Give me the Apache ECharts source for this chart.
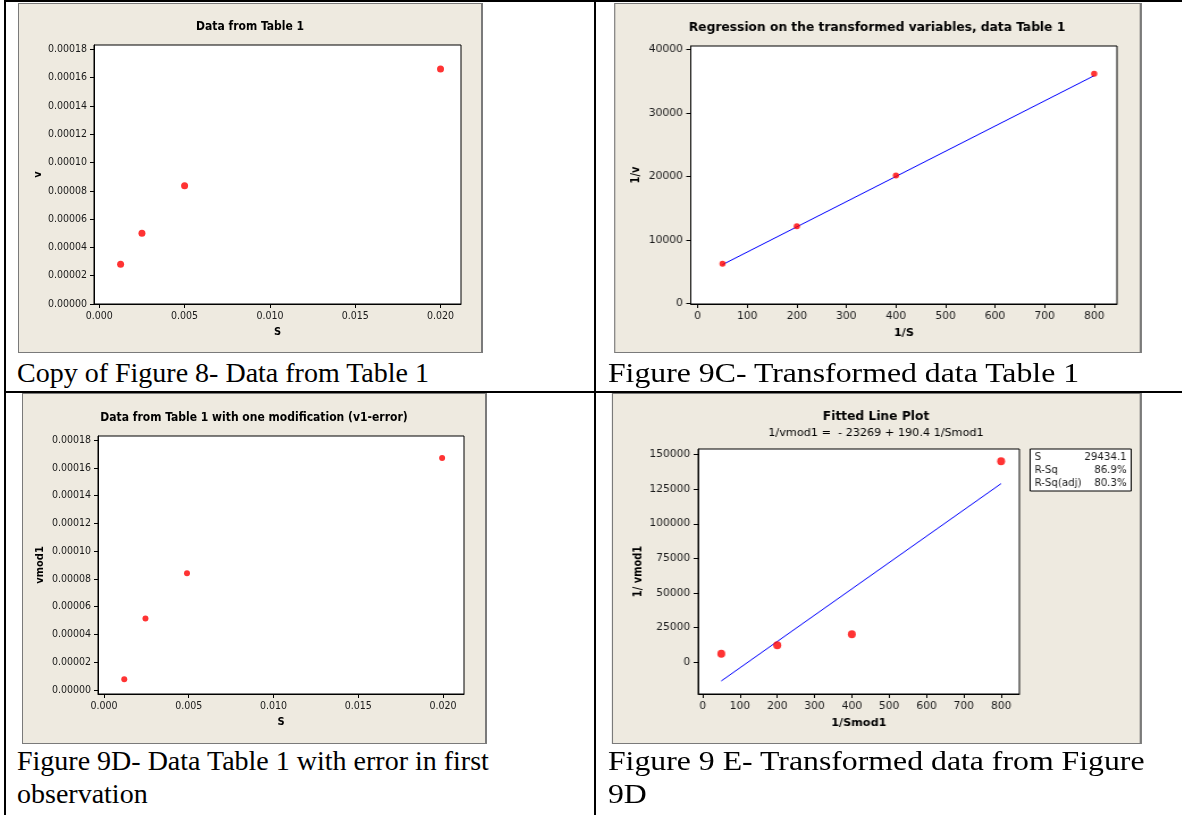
<!DOCTYPE html>
<html>
<head>
<meta charset="utf-8">
<script src="https://cdn.jsdelivr.net/npm/echarts@6/dist/echarts.min.js"></script>
<style>
  html, body { margin: 0; padding: 0; background: #fff; }
  #page { position: relative; width: 1182px; height: 815px; overflow: hidden; }
  .rule { position: absolute; background: #000; z-index: 3; }
  .col { position: absolute; top: 0; height: 815px; }
  #colLeft { left: 0; width: 594px; }
  /* the right-hand column is laid out at the same size as the left one and widened */
  #colRight { left: 596px; width: 517px; transform: scaleX(1.135); transform-origin: 0 0; }
  .panel { position: absolute; background: #EEEAE0; border: 1px solid #7a7a7a; border-right-width: 2px; box-sizing: border-box; }
  .cap { position: absolute; font-family: "Liberation Serif", "Times New Roman", serif; font-size: 28px; line-height: 33px; color: #000; white-space: nowrap; }
  .chart { position: absolute; left: 0; top: 0; height: 815px; z-index: 2; }
</style>
</head>
<body>
<div id="page">
  <div class="rule" style="left:4px;top:0;width:1178px;height:2px"></div>
  <div class="rule" style="left:4px;top:0;width:2px;height:815px"></div>
  <div class="rule" style="left:594px;top:0;width:2px;height:815px"></div>
  <div class="rule" style="left:4px;top:391px;width:1178px;height:2px"></div>

  <div class="col" id="colLeft">
    <div class="panel" style="left:18px;top:3px;width:465px;height:350px"></div>
    <div class="panel" style="left:22px;top:393px;width:465px;height:351px"></div>
    <div class="cap" style="left:17px;top:356px">Copy of Figure 8- Data from Table 1</div>
    <div class="cap" style="left:17px;top:744px">Figure 9D- Data Table 1 with error in first<br>observation</div>
    <div class="chart" id="chartLeft" style="width:594px"></div>
  </div>

  <div class="col" id="colRight">
    <div class="panel" style="left:16px;top:3px;width:465px;height:350px"></div>
    <div class="panel" style="left:14px;top:393px;width:467px;height:351px"></div>
    <div class="cap" style="left:10.5px;top:356px">Figure 9C- Transformed data Table 1</div>
    <div class="cap" style="left:10.5px;top:744px">Figure 9 E- Transformed data from Figure<br>9D</div>
    <div class="chart" id="chartRight" style="width:517px"></div>
  </div>
</div>
<script>
// Table 1: substrate concentration S and rate v
const sValues = [0.00125, 0.0025, 0.005, 0.02];
const vValues = [0.000028, 0.00005, 0.0000835, 0.000166];

// Transformed variables 1/S and 1/v
const invS = [50, 200, 400, 800];
const invV = [6230, 12150, 20150, 36150];
// Ends of the regression line on 1/S
const fitLineX = [50, 800];
const fitLineY = [6100, 35850];

// Table 1 with the first observation in error
const sMod = [0.0012, 0.00245, 0.0049, 0.01995];
const vMod = [0.0000077, 0.0000514, 0.000084, 0.000167];

// Transformed modified data
const invSMod = [50, 200, 400, 800];
const invVMod = [6000, 12000, 20000, 145300];
// Fitted line 1/vmod1 = b0 + b1 * 1/Smod1
const fitIntercept = -23269;
const fitSlope = 190.4;
const fitRangeX = [50, 800];
const fitStats = [['S', '29434.1'], ['R-Sq', '86.9%'], ['R-Sq(adj)', '80.3%']];

// Tick positions
const sTicks = [0, 0.005, 0.01, 0.015, 0.02];
const vTicks = [0, 0.00002, 0.00004, 0.00006, 0.00008, 0.0001, 0.00012, 0.00014, 0.00016, 0.00018];
const invSTicks = [0, 100, 200, 300, 400, 500, 600, 700, 800];
const invVTicks = [0, 10000, 20000, 30000, 40000];
const invVModTicks = [0, 25000, 50000, 75000, 100000, 125000, 150000];

const FONT = '"DejaVu Sans Condensed", "Liberation Sans", sans-serif';
const LABEL = { fontFamily: FONT, fontSize: 10.5, color: '#1a1a1a' };
const titleFont = 'bold 12px ' + FONT;

function zip(xs, ys) { return xs.map((x, i) => [x, ys[i]]); }
const fixed = (d) => (v) => v.toFixed(d);
const plain = (v) => String(Math.round(v));

function valueAxis(gridIndex, opts) {
  return {
    type: 'value',
    gridIndex: gridIndex,
    min: opts.min,
    max: opts.max,
    name: opts.name,
    nameLocation: 'middle',
    nameGap: opts.nameGap,
    nameMoveOverlap: opts.moveName !== false,
    nameTextStyle: { fontFamily: FONT, fontSize: 11, fontWeight: 'bold', color: '#000' },
    axisLine: { show: true, onZero: false, lineStyle: { color: '#000', width: 1 } },
    axisTick: { show: true, customValues: opts.ticks, length: 4, lineStyle: { color: '#000', width: 1 } },
    axisLabel: Object.assign({ customValues: opts.ticks, formatter: opts.fmt, margin: 7 }, LABEL),
    splitLine: { show: false }
  };
}

function plotGrid(left, top, width, height) {
  return { left: left, top: top, width: width, height: height, show: true, backgroundColor: '#fff', borderColor: '#000', borderWidth: 1 };
}

function titleText(x, y, text, font) {
  return { type: 'text', x: x, y: y, style: { text: text, font: font || titleFont, fill: '#000', textAlign: 'center', textVerticalAlign: 'middle' } };
}

const dot = (size) => ({ type: 'scatter', symbolSize: size, itemStyle: { color: '#ff0000' }, z: 3 });
const fitLine = { type: 'line', symbol: 'none', lineStyle: { color: '#0000ff', width: 1 }, z: 2 };

// Left column: raw data and data with the erroneous first observation
const chartLeft = echarts.init(document.getElementById('chartLeft'));
chartLeft.setOption({
  animation: false,
  grid: [plotGrid(94, 45, 367, 259), plotGrid(98, 436, 366, 258)],
  xAxis: [
    valueAxis(0, { min: -0.00031, max: 0.0212, ticks: sTicks, fmt: fixed(3), name: 'S', nameGap: 23 }),
    valueAxis(1, { min: -0.00035, max: 0.02124, ticks: sTicks, fmt: fixed(3), name: 'S', nameGap: 23 })
  ],
  yAxis: [
    valueAxis(0, { min: 0, max: 0.000183, ticks: vTicks, fmt: fixed(5), name: 'v', nameGap: 50, moveName: false }),
    valueAxis(1, { min: -0.0000029, max: 0.0001829, ticks: vTicks, fmt: fixed(5), name: 'vmod1', nameGap: 52, moveName: false })
  ],
  series: [
    Object.assign(dot(7), { xAxisIndex: 0, yAxisIndex: 0, data: zip(sValues, vValues) }),
    Object.assign(dot(6), { xAxisIndex: 1, yAxisIndex: 1, data: zip(sMod, vMod) })
  ],
  graphic: [
    titleText(250, 27, 'Data from Table 1'),
    titleText(254, 418, 'Data from Table 1 with one modification (v1-error)')
  ]
});

// Right column: regressions on the transformed variables (column is widened, so dots are drawn narrower)
const chartRight = echarts.init(document.getElementById('chartRight'));
chartRight.setOption({
  animation: false,
  grid: [plotGrid(83.5, 46, 375.5, 258), plotGrid(90, 449, 283, 245)],
  xAxis: [
    valueAxis(0, { min: -14, max: 846, ticks: invSTicks, fmt: plain, name: '1/S', nameGap: 24 }),
    valueAxis(1, { min: -12, max: 849, ticks: invSTicks, fmt: plain, name: '1/Smod1', nameGap: 24 })
  ],
  yAxis: [
    valueAxis(0, { min: -100, max: 40520, ticks: invVTicks, fmt: plain, name: '1/v', nameGap: 42.5, moveName: false }),
    valueAxis(1, { min: -23190, max: 154100, ticks: invVModTicks, fmt: plain, name: '1/ vmod1', nameGap: 47.5, moveName: false })
  ],
  series: [
    Object.assign({}, fitLine, { xAxisIndex: 0, yAxisIndex: 0, data: zip(fitLineX, fitLineY) }),
    Object.assign(dot([5.5, 6]), { xAxisIndex: 0, yAxisIndex: 0, data: zip(invS, invV) }),
    Object.assign({}, fitLine, { xAxisIndex: 1, yAxisIndex: 1, data: fitRangeX.map(x => [x, fitIntercept + fitSlope * x]) }),
    Object.assign(dot([7, 8]), { xAxisIndex: 1, yAxisIndex: 1, data: zip(invSMod, invVMod) })
  ],
  graphic: [
    titleText(247.6, 28, 'Regression on the transformed variables, data Table 1'),
    titleText(246.7, 417, 'Fitted Line Plot'),
    titleText(246.7, 433, '1/vmod1 =  - ' + Math.abs(fitIntercept) + ' + ' + fitSlope + ' 1/Smod1', '11px ' + FONT),
    {
      type: 'group', x: 382.5, y: 449,
      children: [
        { type: 'rect', shape: { x: 0, y: 0, width: 89, height: 42 }, style: { fill: '#fff', stroke: '#000', lineWidth: 1 } }
      ].concat(fitStats.flatMap((row, i) => [
        { type: 'text', x: 4, y: 8 + i * 13, style: { text: row[0], font: '10px ' + FONT, fill: '#1a1a1a', textVerticalAlign: 'middle' } },
        { type: 'text', x: 85, y: 8 + i * 13, style: { text: row[1], font: '10px ' + FONT, fill: '#1a1a1a', textAlign: 'right', textVerticalAlign: 'middle' } }
      ]))
    }
  ]
});
</script>
</body>
</html>
